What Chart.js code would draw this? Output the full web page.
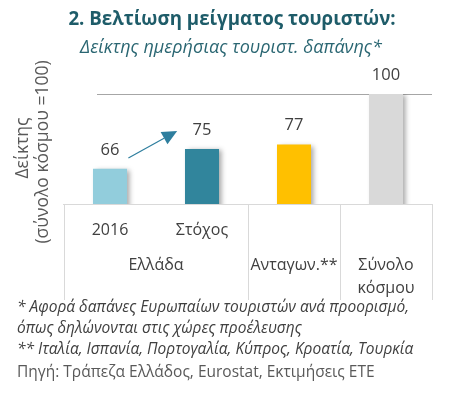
<!DOCTYPE html>
<html>
<head>
<meta charset="utf-8">
<script src="https://cdn.jsdelivr.net/npm/chart.js@4.4.1/dist/chart.umd.min.js"></script>
<style>
  body { margin: 0; background: #fff; }
  #wrap { position: relative; width: 454px; height: 406px; overflow: hidden; font-family: "Open Sans", "Noto Sans", sans-serif; }
  #chartBox { position: absolute; left: 0; top: 0; width: 454px; height: 406px; }
  .txt { position: absolute; white-space: nowrap; line-height: 1; }
  #title { left: 0; width: 464px; text-align: center; top: 9px; font-size: 18.7px; font-weight: bold; color: #1e5c69; }
  #subtitle { left: 0; width: 462px; text-align: center; top: 37px; font-size: 18px; font-style: italic; color: #2a6672; }
  .note { left: 17px; font-size: 15.5px; font-style: italic; color: #404040; }
  #src { left: 17px; top: 364px; font-size: 15.5px; color: #595959; }
</style>
</head>
<body>
<div id="wrap">
  <div id="chartBox"><canvas id="chart"></canvas></div>
  <div class="txt" id="title">2. Βελτίωση μείγματος τουριστών:</div>
  <div class="txt" id="subtitle">Δείκτης ημερήσιας τουριστ. δαπάνης*</div>
  <div class="txt note" style="top:299px">* Αφορά δαπάνες Ευρωπαίων τουριστών ανά προορισμό,</div>
  <div class="txt note" style="top:320px">όπως δηλώνονται στις χώρες προέλευσης</div>
  <div class="txt note" style="top:341px">** Ιταλία, Ισπανία, Πορτογαλία, Κύπρος, Κροατία, Τουρκία</div>
  <div class="txt" id="src">Πηγή: Τράπεζα Ελλάδος, Eurostat, Εκτιμήσεις ΕΤΕ</div>
</div>
<script>
// data
const categories = ['2016', 'Στόχος', 'Ανταγων.**', 'Σύνολο κόσμου'];
const subLabels = ['2016', 'Στόχος', '', ''];
const groupLabels = [['Ελλάδα'], ['Ανταγων.**'], ['Σύνολο', 'κόσμου']];
const groupSpans = [[0, 1], [2, 2], [3, 3]];
const values = [66, 75, 77, 100];
const gridValues = [100];
const yTitle = ['Δείκτης', '(σύνολο κόσμου =100)'];
// arrow from 2016 towards target: [index, value] pairs
const arrowFrom = [0.2, 70.9];
const arrowTo = [0.73, 83.2];

const barColors = ['#92cddc', '#31859c', '#ffc000', '#d9d9d9'];
const textGray = '#404040';
const lineGray = '#d9d9d9';
const font = '"Open Sans", "Noto Sans", sans-serif';

const decorPlugin = {
    id: 'decor',
    beforeDatasetsDraw(chart) {
        const ctx = chart.ctx;
        const y = chart.scales.y;
        const area = chart.chartArea;

        // gridline
        ctx.save();
        ctx.strokeStyle = '#a6a6a6';
        ctx.lineWidth = 1;
        gridValues.forEach(v => {
            const py = Math.round(y.getPixelForValue(v)) + 0.5;
            ctx.beginPath();
            ctx.moveTo(97, py);
            ctx.lineTo(area.right, py);
            ctx.stroke();
        });
        ctx.restore();

        // shadow for bars
        ctx.save();
        ctx.shadowColor = 'rgba(0,0,0,0.35)';
        ctx.shadowBlur = 5;
        ctx.shadowOffsetX = 3;
        ctx.shadowOffsetY = 1;
    },
    afterDatasetsDraw(chart) {
        const ctx = chart.ctx;
        ctx.restore();

        const x = chart.scales.x;
        const y = chart.scales.y;
        const area = chart.chartArea;
        const half = (x.getPixelForValue(1) - x.getPixelForValue(0)) / 2;
        const base = Math.round(area.bottom) + 0.5;
        const boxBottom = 300;

        ctx.save();
        // category table
        ctx.strokeStyle = lineGray;
        ctx.lineWidth = 1;
        ctx.beginPath();
        ctx.moveTo(area.left - 1, base);
        ctx.lineTo(area.right + 1, base);
        [0, 2, 3, 4].forEach(i => {
            const px = Math.round(x.getPixelForValue(i) - half) + 0.5;
            ctx.moveTo(px, base);
            ctx.lineTo(px, boxBottom);
        });
        ctx.stroke();

        ctx.fillStyle = textGray;
        ctx.textAlign = 'center';
        ctx.textBaseline = 'middle';
        ctx.font = '16px ' + font;
        subLabels.forEach((lab, i) => {
            if (lab) ctx.fillText(lab, x.getPixelForValue(i), 230);
        });
        groupLabels.forEach((lines, g) => {
            const cx = (x.getPixelForValue(groupSpans[g][0]) + x.getPixelForValue(groupSpans[g][1])) / 2;
            lines.forEach((l, k) => ctx.fillText(l, cx, 265 + k * 23));
        });

        // value labels
        ctx.font = '16.5px ' + font;
        values.forEach((v, i) => {
            ctx.fillText(String(v), x.getPixelForValue(i), y.getPixelForValue(v) - 19);
        });

        // y axis title
        ctx.fillStyle = '#595959';
        ctx.font = '17.5px ' + font;
        ctx.translate(0, 152);
        ctx.rotate(-Math.PI / 2);
        ctx.fillText(yTitle[0], 4, 23);
        ctx.fillText(yTitle[1], 0, 43);
        ctx.restore();

        // arrow
        const x1 = x.getPixelForValue(arrowFrom[0]);
        const y1 = y.getPixelForValue(arrowFrom[1]);
        const x2 = x.getPixelForValue(arrowTo[0]);
        const y2 = y.getPixelForValue(arrowTo[1]);
        const ang = Math.atan2(y2 - y1, x2 - x1);
        const headLen = 15;
        const headW = 7;
        const bx = x2 - headLen * Math.cos(ang);
        const by = y2 - headLen * Math.sin(ang);
        ctx.save();
        ctx.strokeStyle = '#2e7e9e';
        ctx.fillStyle = '#2e7e9e';
        ctx.lineWidth = 1.2;
        ctx.beginPath();
        ctx.moveTo(x1, y1);
        ctx.lineTo(bx, by);
        ctx.stroke();
        ctx.beginPath();
        ctx.moveTo(x2, y2);
        ctx.lineTo(bx + headW * Math.sin(ang), by - headW * Math.cos(ang));
        ctx.lineTo(bx - headW * Math.sin(ang), by + headW * Math.cos(ang));
        ctx.closePath();
        ctx.fill();
        ctx.restore();
    }
};

new Chart(document.getElementById('chart'), {
    type: 'bar',
    data: {
        labels: categories,
        datasets: [{
            data: values,
            backgroundColor: barColors,
            borderWidth: 0,
            categoryPercentage: 1,
            barPercentage: 0.37
        }]
    },
    options: {
        responsive: true,
        maintainAspectRatio: false,
        animation: false,
        layout: { padding: { left: 64, right: 22, top: 94, bottom: 202 } },
        plugins: { legend: { display: false }, tooltip: { enabled: false } },
        scales: {
            x: { display: false },
            y: { display: false, min: 50, max: 100 }
        }
    },
    plugins: [decorPlugin]
});
</script>
</body>
</html>
